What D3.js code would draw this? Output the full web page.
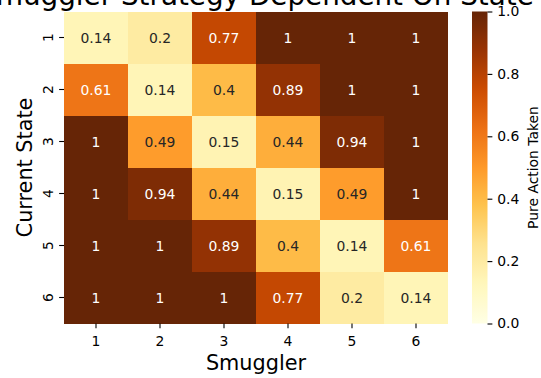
<!DOCTYPE html>
<html>
<head>
<meta charset="utf-8">
<script src="https://cdn.jsdelivr.net/npm/d3@7"></script>
<style>
  html, body { margin: 0; padding: 0; background: #fff; }
  svg { display: block; font-family: "DejaVu Sans", sans-serif; }
</style>
</head>
<body>
<svg id="chart" width="541" height="378"></svg>
<script>
// Smuggler strategy heatmap: probability of the pure action per state / smuggler
const smugglers = ["1", "2", "3", "4", "5", "6"];
const states = ["1", "2", "3", "4", "5", "6"];
const row1 = [0.14, 0.2, 0.77, 1, 1, 1];
const row2 = [0.61, 0.14, 0.4, 0.89, 1, 1];
const row3 = [1, 0.49, 0.15, 0.44, 0.94, 1];
const row4 = [1, 0.94, 0.44, 0.15, 0.49, 1];
const row5 = [1, 1, 0.89, 0.4, 0.14, 0.61];
const row6 = [1, 1, 1, 0.77, 0.2, 0.14];
const rows = [row1, row2, row3, row4, row5, row6];
const cbarTicks = [0, 0.2, 0.4, 0.6, 0.8, 1.0];

const titleText = "Smuggler Strategy Dependent On State";
const xLabel = "Smuggler";
const yLabel = "Current State";
const cbarLabel = "Pure Action Taken";

// YlOrBr (ColorBrewer 9-class), linearly interpolated
const ylorbr = ["#ffffe5", "#fff7bc", "#fee391", "#fec44f", "#fe9929",
                "#ec7014", "#cc4c02", "#993404", "#662506"];
const color = d3.scaleLinear()
  .domain(d3.range(ylorbr.length).map(i => i / (ylorbr.length - 1)))
  .range(ylorbr)
  .interpolate(d3.interpolateRgb)
  .clamp(true);

const svg = d3.select("#chart");
const plotLeft = 64, plotRight = 448, plotTop = 11.5, plotBottom = 323.5;

const x = d3.scaleBand().domain(smugglers).range([plotLeft, plotRight]).padding(0);
const y = d3.scaleBand().domain(states).range([plotTop, plotBottom]).padding(0);

const cells = [];
rows.forEach((r, i) => r.forEach((v, j) => cells.push({ s: states[i], m: smugglers[j], v })));

// cells
svg.append("g").selectAll("rect").data(cells).join("rect")
  .attr("x", d => x(d.m))
  .attr("y", d => y(d.s))
  .attr("width", x.bandwidth())
  .attr("height", y.bandwidth())
  .attr("fill", d => color(d.v))
  .attr("shape-rendering", "crispEdges");

// annotations: light text on dark cells
function lum(c) {
  const rgb = d3.rgb(c);
  const f = u => { u /= 255; return u <= 0.03928 ? u / 12.92 : Math.pow((u + 0.055) / 1.055, 2.4); };
  return 0.2126 * f(rgb.r) + 0.7152 * f(rgb.g) + 0.0722 * f(rgb.b);
}
svg.append("g").selectAll("text").data(cells).join("text")
  .attr("x", d => x(d.m) + x.bandwidth() / 2)
  .attr("y", d => y(d.s) + y.bandwidth() / 2)
  .attr("text-anchor", "middle")
  .attr("dominant-baseline", "central")
  .attr("font-size", "13.9px")
  .attr("fill", d => lum(color(d.v)) > 0.408 ? "#262626" : "#ffffff")
  .text(d => d3.format("")(d.v));

// x axis
const xAxis = svg.append("g")
  .attr("transform", `translate(0,${plotBottom})`)
  .call(d3.axisBottom(x).tickSize(4.86).tickPadding(4.86));
xAxis.select(".domain").remove();
xAxis.selectAll(".tick line").attr("stroke", "#000").attr("stroke-width", 1.1);
xAxis.selectAll(".tick text")
  .attr("font-size", "13.9px").attr("fill", "#000")
  .attr("font-family", "DejaVu Sans, sans-serif")
  .attr("dy", null).attr("y", 22);

// y axis with vertical labels
const yAxis = svg.append("g")
  .attr("transform", `translate(${plotLeft},0)`)
  .call(d3.axisLeft(y).tickSize(4.86).tickPadding(4.86));
yAxis.select(".domain").remove();
yAxis.selectAll(".tick line").attr("stroke", "#000").attr("stroke-width", 1.1);
yAxis.selectAll(".tick text")
  .attr("font-size", "13.9px").attr("fill", "#000")
  .attr("font-family", "DejaVu Sans, sans-serif")
  .attr("text-anchor", "middle")
  .attr("dy", null).attr("x", 0).attr("y", -11.5)
  .attr("transform", "rotate(-90)");

// axis labels and title
svg.append("text")
  .attr("x", (plotLeft + plotRight) / 2).attr("y", 369.5)
  .attr("text-anchor", "middle").attr("font-size", "20.8px").attr("fill", "#000")
  .text(xLabel);
svg.append("text")
  .attr("transform", `translate(31.5,${(plotTop + plotBottom) / 2}) rotate(-90)`)
  .attr("text-anchor", "middle").attr("font-size", "20.8px").attr("fill", "#000")
  .text(yLabel);
svg.append("text")
  .attr("x", (plotLeft + plotRight) / 2).attr("y", 5)
  .attr("text-anchor", "middle").attr("font-size", "27.8px").attr("fill", "#000")
  .text(titleText);

// colorbar
const cbX = 472, cbW = 15.5;
const cbScale = d3.scaleLinear().domain([0, 1]).range([plotBottom, plotTop]);
const grad = svg.append("defs").append("linearGradient")
  .attr("id", "cbgrad").attr("x1", 0).attr("y1", 1).attr("x2", 0).attr("y2", 0);
d3.range(0, 1.0001, 0.02).forEach(t => {
  grad.append("stop").attr("offset", t).attr("stop-color", color(t));
});
svg.append("rect")
  .attr("x", cbX).attr("y", plotTop)
  .attr("width", cbW).attr("height", plotBottom - plotTop)
  .attr("fill", "url(#cbgrad)");
const cAxis = svg.append("g")
  .attr("transform", `translate(${cbX + cbW},0)`)
  .call(d3.axisRight(cbScale).tickValues(cbarTicks).tickFormat(d3.format(".1f"))
    .tickSize(4.86).tickPadding(4.86));
cAxis.select(".domain").remove();
cAxis.selectAll(".tick line").attr("stroke", "#000").attr("stroke-width", 1.1);
cAxis.selectAll(".tick text")
  .attr("font-size", "13.9px").attr("fill", "#000")
  .attr("font-family", "DejaVu Sans, sans-serif");
svg.append("text")
  .attr("transform", `translate(537.5,${(plotTop + plotBottom) / 2}) rotate(-90)`)
  .attr("text-anchor", "middle").attr("font-size", "13.9px").attr("fill", "#000")
  .text(cbarLabel);
</script>
</body>
</html>
